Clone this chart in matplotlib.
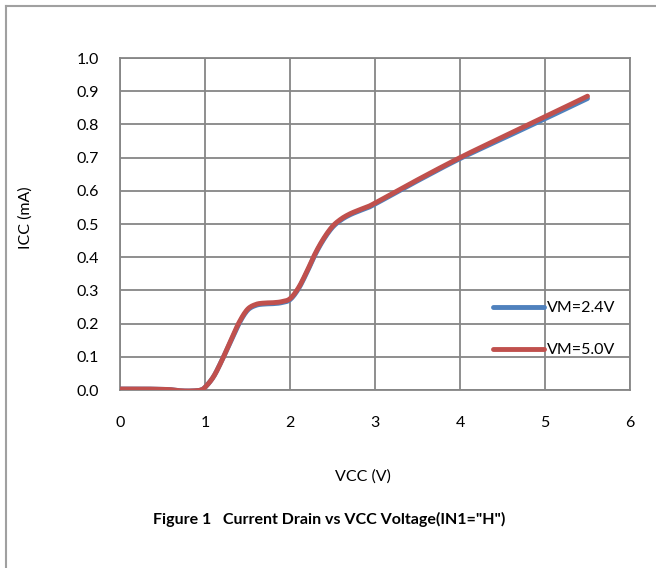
import matplotlib
matplotlib.use("Agg")
import matplotlib.pyplot as plt
from matplotlib.lines import Line2D
import numpy as np

plt.rcParams['font.family'] = ['Lato', 'DejaVu Sans']

vcc = [0.0, 0.3, 0.5, 0.6, 0.7, 0.8, 0.9, 0.95, 1.0, 1.1, 1.2, 1.3, 1.4, 1.5, 1.6, 1.7, 1.8, 1.9, 2.0,
       2.1, 2.2, 2.3, 2.4, 2.5, 2.6, 2.7, 2.8, 2.9, 3.0, 3.5, 4.0, 4.5, 5.0, 5.5]
icc_24 = [0.003, 0.003, 0.002, 0.001, -0.002, -0.003, -0.002, 0.000, 0.008, 0.04, 0.09, 0.145, 0.20, 0.24,
          0.255, 0.259, 0.260, 0.263, 0.272, 0.305, 0.355, 0.41, 0.455, 0.49, 0.512, 0.527, 0.538, 0.548, 0.560,
          0.63, 0.697, 0.757, 0.817, 0.878]
icc_50 = [0.003, 0.003, 0.002, 0.001, -0.002, -0.003, -0.002, 0.000, 0.008, 0.04, 0.09, 0.147, 0.203, 0.243,
          0.258, 0.262, 0.263, 0.266, 0.275, 0.308, 0.358, 0.413, 0.458, 0.493, 0.515, 0.53, 0.541, 0.551, 0.563,
          0.633, 0.70, 0.762, 0.823, 0.885]
labels = ["VM=2.4V", "VM=5.0V"]
xticks = [0, 1, 2, 3, 4, 5, 6]
yticks = [0.0, 0.1, 0.2, 0.3, 0.4, 0.5, 0.6, 0.7, 0.8, 0.9, 1.0]

blue = "#4F81BD"
red = "#C0504D"
grid = "#868686"

fig = plt.figure(figsize=(6.56, 5.68), dpi=100)
W, H = 656, 568
ax = fig.add_axes([120 / W, 1 - 390 / H, 510 / W, 332 / H])

# outer border (left & top visible, extends past image)
fig.add_artist(Line2D([5.5 / W, 5.5 / W], [0, 1 - 6 / H], transform=fig.transFigure, color="#A0A0A0", lw=1.5))
fig.add_artist(Line2D([5.5 / W, 1.0], [1 - 6 / H, 1 - 6 / H], transform=fig.transFigure, color="#A0A0A0", lw=1.5))

def smooth(x, y, n=8):
    # Catmull-Rom smoothing between read points (like Excel smoothed line)
    x = np.asarray(x, float); y = np.asarray(y, float)
    px = np.concatenate([[2 * x[0] - x[1]], x, [2 * x[-1] - x[-2]]])
    py = np.concatenate([[2 * y[0] - y[1]], y, [2 * y[-1] - y[-2]]])
    xs, ys = [], []
    t = np.linspace(0, 1, n, endpoint=False)
    for i in range(1, len(px) - 2):
        p0, p1, p2, p3 = [np.array([px[j], py[j]]) for j in range(i - 1, i + 3)]
        for tt in t:
            pt = 0.5 * ((2 * p1) + (-p0 + p2) * tt + (2 * p0 - 5 * p1 + 4 * p2 - p3) * tt ** 2
                        + (-p0 + 3 * p1 - 3 * p2 + p3) * tt ** 3)
            xs.append(pt[0]); ys.append(pt[1])
    xs.append(x[-1]); ys.append(y[-1])
    return xs, ys

ax.plot(*smooth(vcc, icc_24), color=blue, lw=3.5, solid_capstyle="round", label=labels[0], zorder=3)
ax.plot(*smooth(vcc, icc_50), color=red, lw=3.5, solid_capstyle="round", label=labels[1], zorder=4)

ax.set_xlim(0, 6)
ax.set_ylim(0, 1.0)
ax.set_xticks(xticks)
ax.set_yticks(yticks)
ax.set_xticklabels([str(v) for v in xticks])
ax.set_yticklabels([f"{v:.1f}" for v in yticks])
ax.grid(True, color=grid, lw=1.3)
ax.set_axisbelow(True)
for s in ax.spines.values():
    s.set_color(grid)
    s.set_linewidth(1.3)
ax.tick_params(length=0, labelsize=11.5, colors="black")
ax.tick_params(axis="x", pad=19)
ax.tick_params(axis="y", pad=15)

fig.text(363 / W, 1 - 477 / H, "VCC (V)", ha="center", va="center", fontsize=11.5)
fig.text(26 / W, 1 - 218 / H, "ICC (mA)", ha="center", va="center", rotation=90, fontsize=11.5)

leg = ax.legend(loc="upper left", bbox_to_anchor=(0.731, 0.268), frameon=False, fontsize=11.5,
                handlelength=3.2, handletextpad=0.2, labelspacing=1.75, borderpad=0, borderaxespad=0)
for h in leg.get_lines():
    h.set_linewidth(3.5)

fig.text(329 / W, 1 - 519 / H, 'Figure 1   Current Drain vs VCC Voltage(IN1="H")', ha="center", va="center",
         fontsize=11.5, fontweight="bold")

fig.savefig("out.png", dpi=100)
